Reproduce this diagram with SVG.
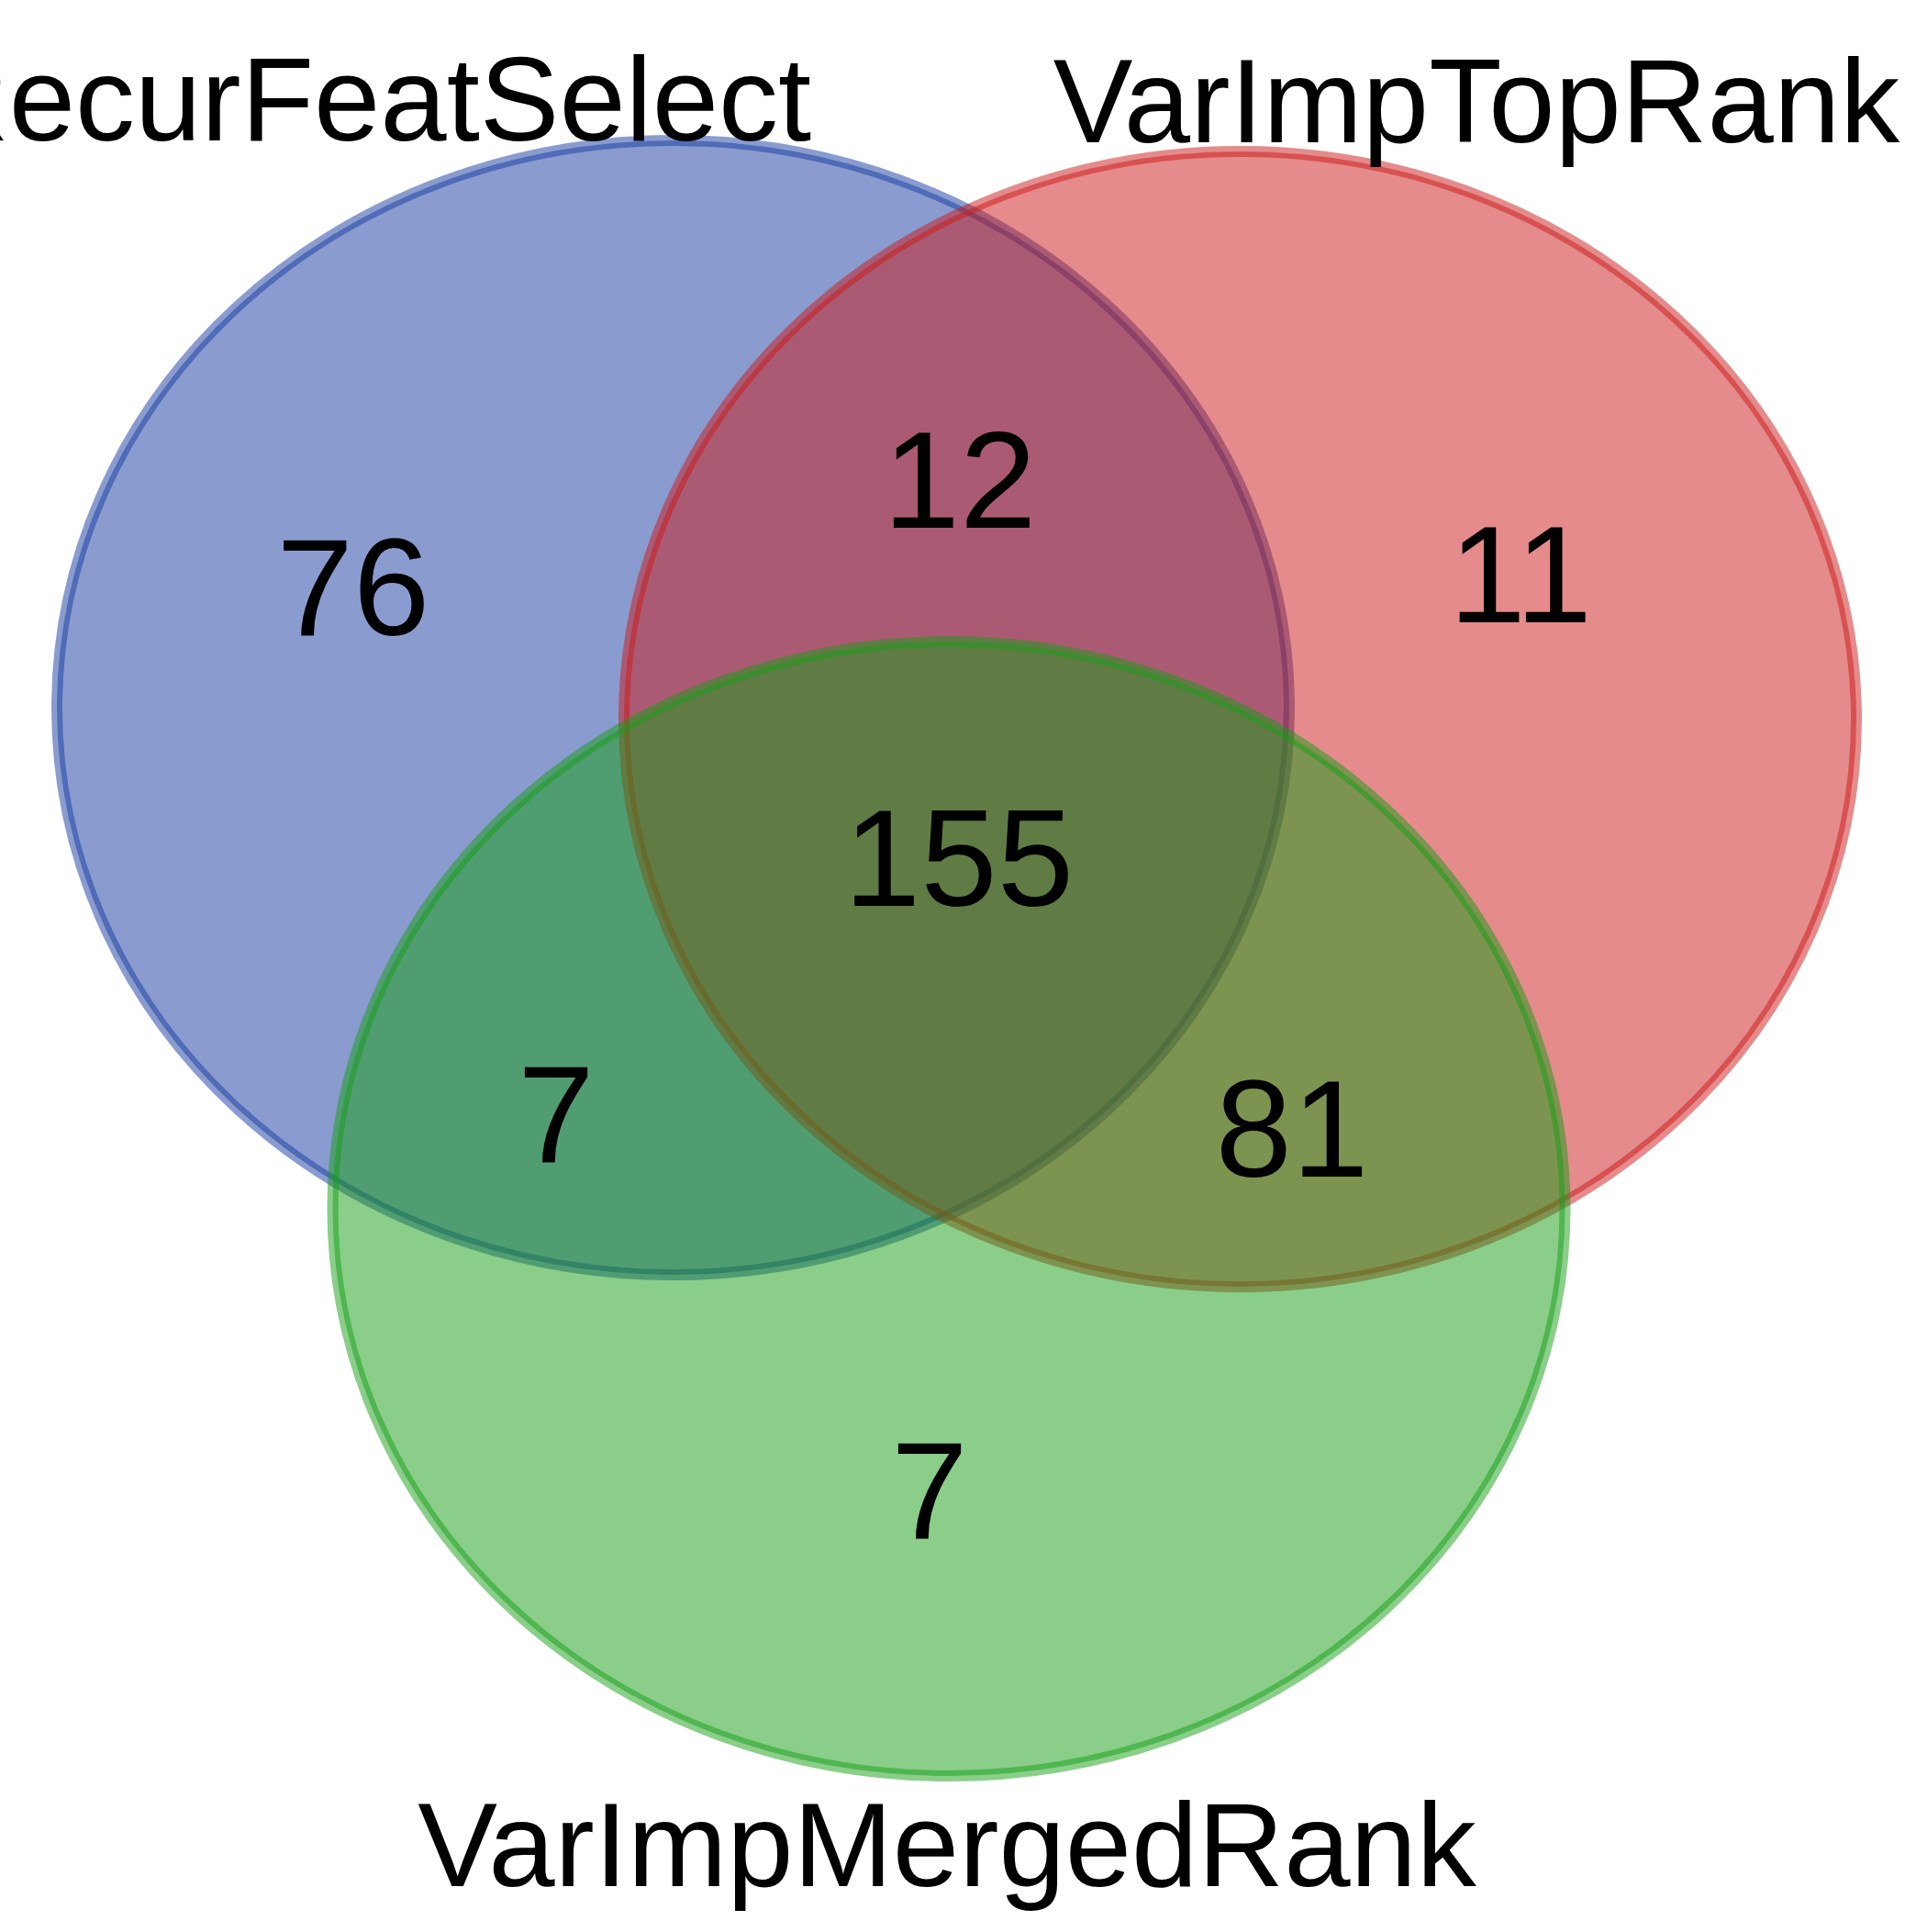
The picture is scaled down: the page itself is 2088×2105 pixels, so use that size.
<svg xmlns="http://www.w3.org/2000/svg" width="2088" height="2105" viewBox="0 0 2088 2105">
<style>
.set{stroke-width:12;fill-opacity:0.5;stroke-opacity:0.5}
.lbl{font-family:"Liberation Sans",Arial,sans-serif;font-size:130px;fill:#000;text-anchor:middle}
.num{font-family:"Liberation Sans",Arial,sans-serif;font-size:150px;fill:#000;text-anchor:middle}
</style>
<rect width="2088" height="2105" fill="#ffffff"/>
<g id="set-RecurFeatSelect">
<ellipse class="set" cx="733.5" cy="771" rx="671.5" ry="618" fill="#15399F" stroke="#15399F"/>
</g>
<g id="set-VarImpTopRank">
<ellipse class="set" cx="1351.5" cy="783.5" rx="671.5" ry="618.5" fill="#CB1717" stroke="#CB1717"/>
</g>
<g id="set-VarImpMergedRank">
<ellipse class="set" cx="1034" cy="1317" rx="671.5" ry="618" fill="#159D15" stroke="#159D15"/>
</g>
<g id="connectors"></g>
<g id="labels">
<text class="lbl" x="400" y="153">RecurFeatSelect</text>
<text class="lbl" x="1609" y="155">VarImpTopRank</text>
<text class="lbl" x="1032" y="2055">VarImpMergedRank</text>
</g>
<g id="counts">
<text class="num" x="385" y="692">76</text>
<text class="num" x="1046" y="575">12</text>
<text class="num" x="1657" y="678">11</text>
<text class="num" x="1045" y="987">155</text>
<text class="num" x="606" y="1266">7</text>
<text class="num" x="1408" y="1282">81</text>
<text class="num" x="1013" y="1676">7</text>
</g>
</svg>
